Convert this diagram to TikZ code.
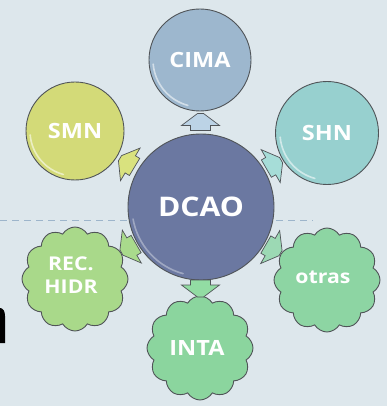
\documentclass[tikz,border=0pt]{standalone}
\usepackage{fontspec}
\newfontfamily\lblfont{Open Sans}[FakeStretch=1.12]
\usetikzlibrary{shapes.symbols,calc}
\definecolor{bg}{HTML}{DDE7EC}
\definecolor{edge}{HTML}{505458}
\definecolor{dashc}{HTML}{9DB5CB}
\definecolor{ccima}{HTML}{9DB7CE}
\definecolor{csmn}{HTML}{D3DA78}
\definecolor{cshn}{HTML}{97D0CF}
\definecolor{cdcao}{HTML}{6B78A1}
\definecolor{crec}{HTML}{A9D98A}
\definecolor{cotras}{HTML}{8DD5A3}
\definecolor{cinta}{HTML}{8BD59E}
\definecolor{acima}{HTML}{BCD3E6}
\definecolor{asmn}{HTML}{D9E27E}
\definecolor{ashn}{HTML}{A6DDD8}
\definecolor{arec}{HTML}{A9DA8C}
\definecolor{aotras}{HTML}{9CD9B4}
\definecolor{ainta}{HTML}{92DCA3}
\tikzset{
  ball/.style={circle, draw=edge, line width=0.9pt, inner sep=0pt, text=white,
    font=\lblfont\bfseries\fontsize{21}{21}\selectfont},
  puff/.style={cloud, cloud puffs=12, cloud puff arc=120, aspect=1, draw=edge,
    line width=0.9pt, inner sep=0pt, minimum width=106pt, minimum height=104pt},
  lbl/.style={text=white, align=center, inner sep=0pt,
    font=\lblfont\bfseries\fontsize{19}{23}\selectfont},
  shine/.style={white, opacity=0.55, line width=1.6pt, line cap=round},
  barrow/.pic={\path[pic actions, draw=edge, line width=0.7pt]
    (-8,-10) -- (-3,-10) -- (-3,-19) -- (9,-3) -- (9,3) -- (-3,19) -- (-3,10) -- (-8,10) -- cycle;}
}
\begin{document}
\begin{tikzpicture}[x=1pt,y=-1pt]
\useasboundingbox (0,0) rectangle (387,406);
\fill[bg] (0,0) rectangle (387,406);
% partial letter at left edge
\fill[black] (0,308) .. controls (3,308) and (5,311) .. (5,316) -- (5,343) -- (0,343) -- cycle;
% dashed rule
\draw[dashc, line width=1pt, dash pattern=on 7pt off 5pt] (0,220) -- (313,220);
% nodes
\node[ball, fill=ccima, minimum size=102pt] (cima) at (200,60) {CIMA};
\node[ball, fill=csmn, minimum size=98pt] (smn) at (75,131) {SMN};
\node[ball, fill=cshn, minimum size=103pt] (shn) at (327,133) {SHN};
\node[ball, fill=cdcao, minimum size=146pt, font=\lblfont\bfseries\fontsize{27}{27}\selectfont] (dcao) at (201,207) {DCAO};
\node[puff, fill=crec] (rec) at (75,279) {};
\node[puff, fill=cotras] (otras) at (327,280) {};
\node[puff, fill=cinta] (inta) at (200,348) {};
\node[lbl] (trec) at ($(rec)+(-4,-4)$) {REC.\\HIDR};
\node[lbl] (totras) at ($(otras)+(-4,-3)$) {otras};
\node[lbl, font=\lblfont\bfseries\fontsize{21}{21}\selectfont] (tinta) at ($(inta)+(-3,0)$) {INTA};
% glossy rims
\draw[shine] ([shift={(cima.center)}] 105:47) arc[start angle=105, end angle=175, radius=47];
\draw[shine] ([shift={(smn.center)}] 105:45) arc[start angle=105, end angle=175, radius=45];
\draw[shine] ([shift={(shn.center)}] 105:47) arc[start angle=105, end angle=175, radius=47];
\draw[shine, opacity=0.35] ([shift={(dcao.center)}] 105:69) arc[start angle=105, end angle=170, radius=69];
% arrows
\coordinate (a-cima) at ($(dcao.90)!0.5!(cima.-90)$);
\coordinate (a-smn) at ($(dcao.149)!0.5!(smn.-31)$);
\coordinate (a-shn) at ($(dcao.30)!0.5!(shn.210)$);
\coordinate (a-rec) at ($(dcao.210)!0.5!(rec.30)$);
\coordinate (a-otras) at ($(dcao.330)!0.5!(otras.150)$);
\coordinate (a-inta) at ($(dcao.270)!0.5!(inta.90)$);
\pic[rotate=90, fill=acima] at (a-cima) {barrow};
\pic[rotate=149, fill=asmn] at (a-smn) {barrow};
\pic[rotate=30, fill=ashn] at (a-shn) {barrow};
\pic[rotate=210, fill=arec] at (a-rec) {barrow};
\pic[rotate=330, fill=aotras] at (a-otras) {barrow};
\pic[rotate=270, fill=ainta] at (a-inta) {barrow};
\end{tikzpicture}
\end{document}
